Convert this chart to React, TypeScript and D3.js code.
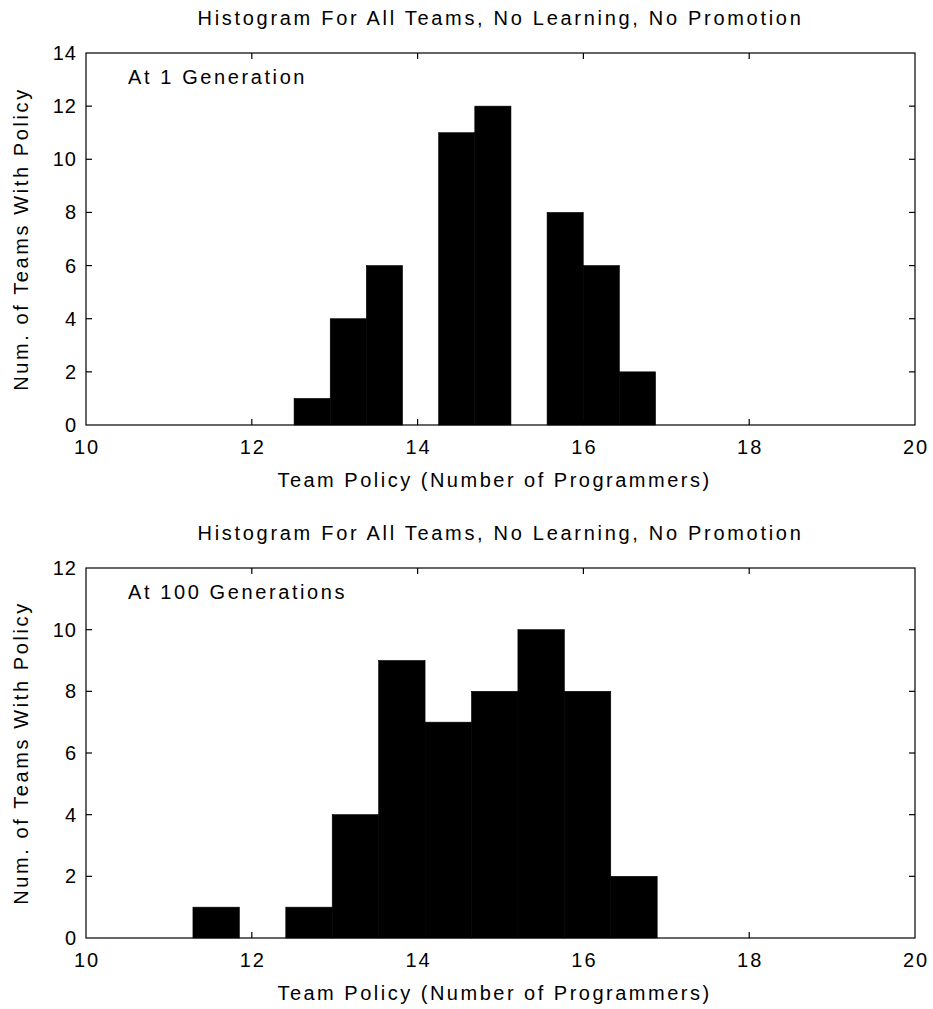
import React from "react";
import * as d3 from "d3";

// Histogram bin edges (team size) and team counts per bin
const gen1Edges = [12.51, 12.946, 13.382, 13.818, 14.254, 14.69, 15.126, 15.562, 15.998, 16.434, 16.87];
const gen1Counts = [1, 4, 6, 0, 11, 12, 0, 8, 6, 2];

const gen100Edges = [11.29, 11.85, 12.41, 12.97, 13.53, 14.09, 14.65, 15.21, 15.77, 16.33, 16.89];
const gen100Counts = [1, 0, 1, 4, 9, 7, 8, 10, 8, 2];

const xTicks = [10, 12, 14, 16, 18, 20];
const gen1YTicks = [0, 2, 4, 6, 8, 10, 12, 14];
const gen100YTicks = [0, 2, 4, 6, 8, 10, 12];

const chartTitle = "Histogram For All Teams, No Learning, No Promotion";
const xTitle = "Team Policy (Number of Programmers)";
const yTitle = "Num. of Teams With Policy";

const W = 933;
const H = 1009;
const FONT = "'Liberation Sans', Arial, Helvetica, sans-serif";
const LEFT = 86;
const RIGHT = 915;
const TICK = 6;

type PanelProps = {
  top: number;
  bottom: number;
  edges: number[];
  counts: number[];
  yMax: number;
  yTicks: number[];
  note: string;
};

function Panel({ top, bottom, edges, counts, yMax, yTicks, note }: PanelProps) {
  const x = d3.scaleLinear().domain([10, 20]).range([LEFT, RIGHT]);
  const y = d3.scaleLinear().domain([0, yMax]).range([bottom, top]);
  const bins = counts.map((c, i) => ({ x0: edges[i], x1: edges[i + 1], c }));
  const midY = (top + bottom) / 2;
  const midX = (LEFT + RIGHT) / 2;
  return (
    <g>
      <text x={midX} y={top - 28} textAnchor="middle" fontSize={20} letterSpacing={2.7} fontFamily={FONT}>
        {chartTitle}
      </text>
      {bins.filter((b) => b.c > 0).map((b, i) => (
        <rect
          key={i}
          x={x(b.x0)}
          y={y(b.c)}
          width={x(b.x1) - x(b.x0)}
          height={y(0) - y(b.c)}
          fill="#000"
          stroke="#000"
          strokeWidth={0.6}
        />
      ))}
      <rect x={LEFT} y={top} width={RIGHT - LEFT} height={bottom - top} fill="none" stroke="#000" strokeWidth={1.2} />
      {xTicks.slice(1, -1).map((t) => (
        <g key={"xt" + t}>
          <line x1={x(t)} x2={x(t)} y1={bottom} y2={bottom - TICK} stroke="#000" strokeWidth={1.2} />
          <line x1={x(t)} x2={x(t)} y1={top} y2={top + TICK} stroke="#000" strokeWidth={1.2} />
        </g>
      ))}
      {xTicks.map((t) => (
        <text key={"xl" + t} x={x(t) + 1} y={bottom + 28.5} textAnchor="middle" fontSize={20} letterSpacing={2} fontFamily={FONT}>
          {t}
        </text>
      ))}
      {yTicks.slice(1, -1).map((t) => (
        <g key={"yt" + t}>
          <line x1={LEFT} x2={LEFT + TICK} y1={y(t)} y2={y(t)} stroke="#000" strokeWidth={1.2} />
          <line x1={RIGHT} x2={RIGHT - TICK} y1={y(t)} y2={y(t)} stroke="#000" strokeWidth={1.2} />
        </g>
      ))}
      {yTicks.map((t) => (
        <text key={"yl" + t} x={LEFT - 9} y={y(t) + 7} textAnchor="end" fontSize={20} letterSpacing={1} fontFamily={FONT}>
          {t}
        </text>
      ))}
      <text x={LEFT + 42} y={top + 31} fontSize={20} letterSpacing={2.6} fontFamily={FONT}>
        {note}
      </text>
      <text x={midX - 6} y={bottom + 62} textAnchor="middle" fontSize={20} letterSpacing={2.5} fontFamily={FONT}>
        {xTitle}
      </text>
      <text
        transform={`translate(28,${midY}) rotate(-90)`}
        textAnchor="middle"
        fontSize={20}
        letterSpacing={2.6}
        fontFamily={FONT}
      >
        {yTitle}
      </text>
    </g>
  );
}

export default function App() {
  return (
    <svg
      width={W}
      height={H}
      style={{ position: "absolute", left: 0, top: 0, background: "#fff", display: "block" }}
    >
      <rect width={W} height={H} fill="#fff" />
      <Panel top={53} bottom={425} edges={gen1Edges} counts={gen1Counts} yMax={14} yTicks={gen1YTicks} note="At 1 Generation" />
      <Panel top={568} bottom={938} edges={gen100Edges} counts={gen100Counts} yMax={12} yTicks={gen100YTicks} note="At 100 Generations" />
    </svg>
  );
}
